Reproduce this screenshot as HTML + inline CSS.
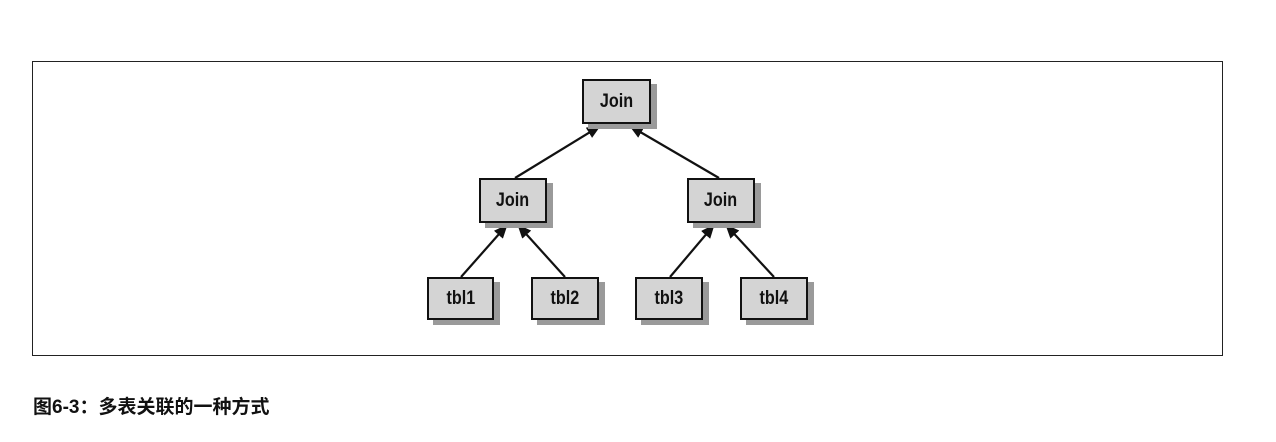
<!DOCTYPE html>
<html><head><meta charset="utf-8"><style>
body{margin:0;width:1276px;height:442px;background:#fff;overflow:hidden;position:relative;font-family:"Liberation Sans",sans-serif}
.frame{position:absolute;left:32px;top:61px;width:1189px;height:293px;border:1.5px solid #222}
.b{position:absolute;background:#d4d4d4;border:2px solid #111;box-sizing:border-box;box-shadow:6px 5px 0 #9a9a9a;color:#111;display:flex;align-items:center;justify-content:center}
.b span{font:bold 19px "Liberation Sans Narrow","Liberation Sans",sans-serif;transform:scaleX(0.85);display:inline-block}
.cap{position:absolute;left:33px;top:392px;font:bold 19px "Liberation Sans","Noto Sans CJK SC",sans-serif;color:#111}
</style></head><body>
<div class="frame"></div>
<svg width="1276" height="442" style="position:absolute;left:0;top:0">
<defs><marker id="a" markerWidth="14" markerHeight="12" refX="13" refY="6" orient="auto" markerUnits="userSpaceOnUse"><path d="M0,0 L14,6 L0,12 z" fill="#111"/></marker></defs>
<g stroke="#111" stroke-width="2.2" marker-end="url(#a)">
<line x1="515" y1="178" x2="600" y2="126"/>
<line x1="719" y1="178" x2="630" y2="126"/>
<line x1="461" y1="277" x2="507" y2="225"/>
<line x1="565" y1="277" x2="518" y2="225"/>
<line x1="670" y1="277" x2="714" y2="225"/>
<line x1="774" y1="277" x2="726" y2="225"/>
</g></svg>
<div class="b" style="left:582px;top:79px;width:69px;height:45px"><span>Join</span></div>
<div class="b" style="left:479px;top:178px;width:68px;height:45px"><span>Join</span></div>
<div class="b" style="left:687px;top:178px;width:68px;height:45px"><span>Join</span></div>
<div class="b" style="left:427px;top:277px;width:67px;height:43px"><span>tbl1</span></div>
<div class="b" style="left:531px;top:277px;width:68px;height:43px"><span>tbl2</span></div>
<div class="b" style="left:635px;top:277px;width:68px;height:43px"><span>tbl3</span></div>
<div class="b" style="left:740px;top:277px;width:68px;height:43px"><span>tbl4</span></div>
<div class="cap">图6-3：多表关联的一种方式</div>
</body></html>
